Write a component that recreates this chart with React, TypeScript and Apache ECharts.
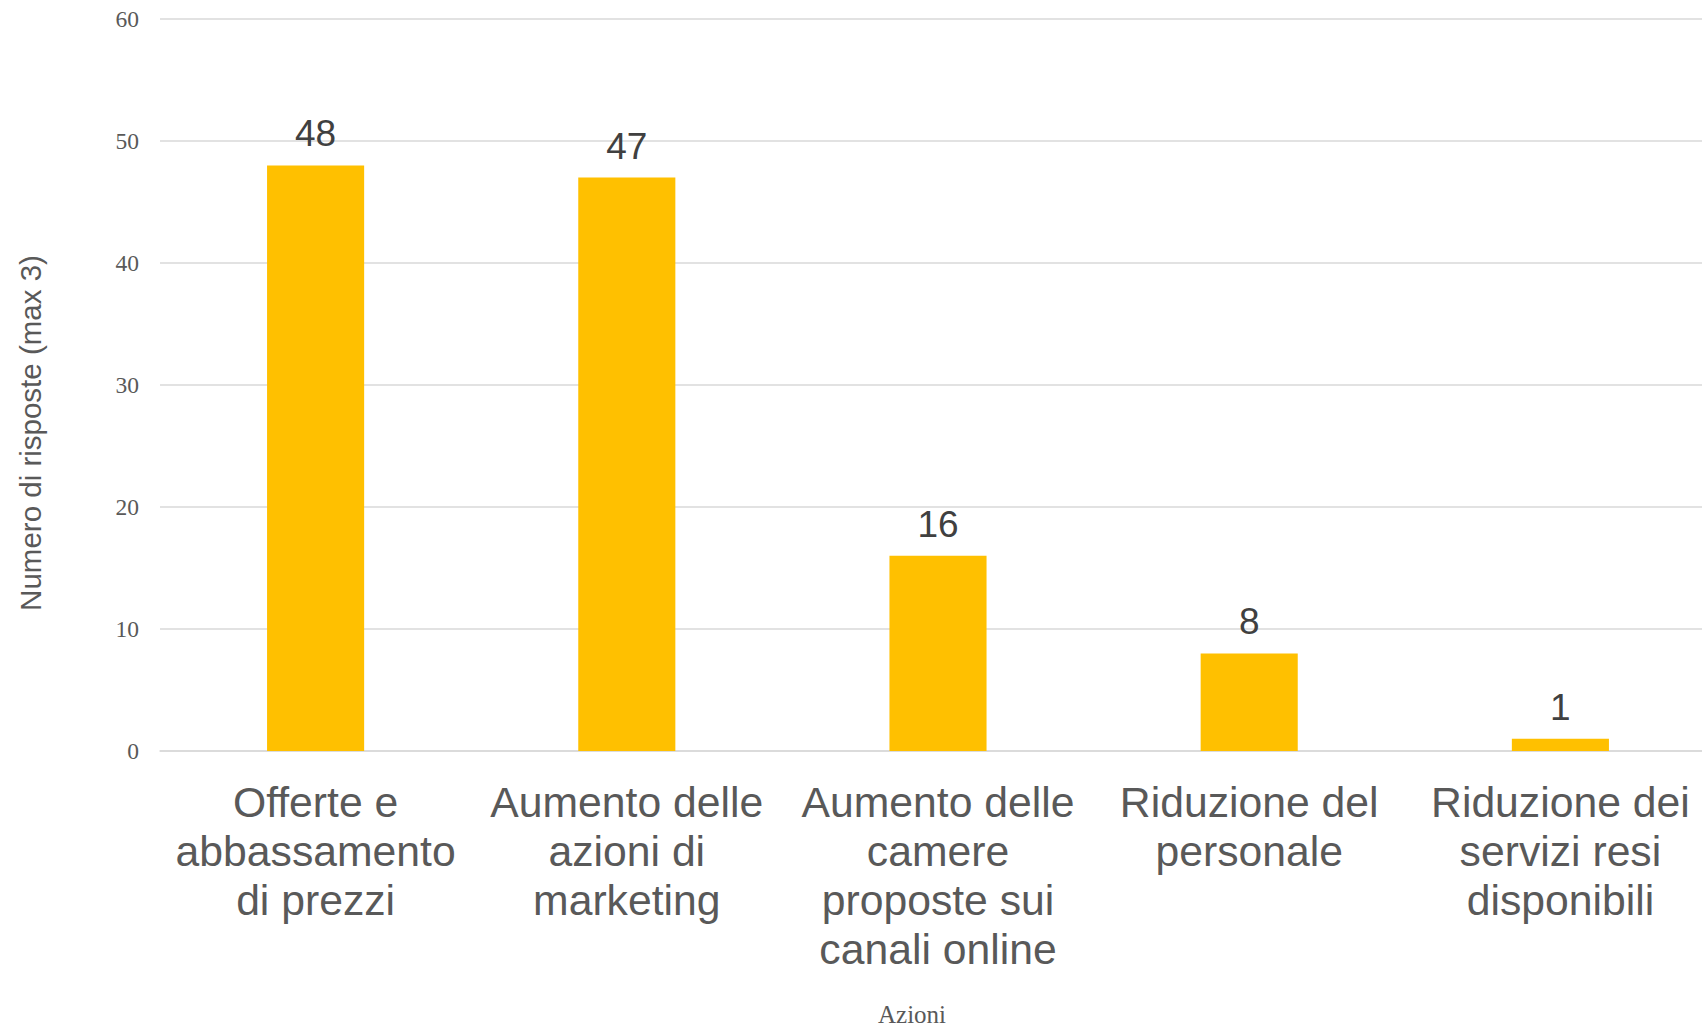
import React, { useEffect, useRef } from "react";
import * as echarts from "echarts";

const categories = [
  "Offerte e\nabbassamento\ndi prezzi",
  "Aumento delle\nazioni di\nmarketing",
  "Aumento delle\ncamere\nproposte sui\ncanali online",
  "Riduzione del\npersonale",
  "Riduzione dei\nservizi resi\ndisponibili",
];
const values = [48, 47, 16, 8, 1];
const yTicks = { min: 0, max: 60, interval: 10 };
const yAxisTitle = "Numero di risposte (max 3)";
const xAxisTitle = "Azioni";

export default function App() {
  const ref = useRef<HTMLDivElement>(null);
  useEffect(() => {
    if (!ref.current) return;
    const chart = echarts.init(ref.current, null, { renderer: "svg" });
    chart.setOption({
      animation: false,
      backgroundColor: "#ffffff",
      grid: {
        left: 160,
        right: -14,
        top: 19,
        bottom: 276,
        containLabel: false,
        outerBoundsMode: "none",
      },
      graphic: [
        {
          type: "text",
          x: 30,
          y: 433,
          rotation: Math.PI / 2,
          style: {
            text: yAxisTitle,
            fontFamily: "Liberation Sans",
            fontSize: 29.5,
            fill: "#595959",
            align: "center",
            verticalAlign: "middle",
          },
        },
      ],
      xAxis: {
        type: "category",
        data: categories,
        name: xAxisTitle,
        nameLocation: "middle",
        nameGap: 251,
        nameTextStyle: {
          fontFamily: "Liberation Serif",
          fontSize: 25,
          color: "#595959",
          padding: [0, 52, 0, 0],
        },
        axisLine: { show: true, lineStyle: { color: "#D9D9D9", width: 1.5 } },
        axisTick: { show: false },
        axisLabel: {
          interval: 0,
          margin: 26,
          fontFamily: "Liberation Sans",
          fontSize: 42.7,
          lineHeight: 49,
          color: "#595959",
        },
      },
      yAxis: {
        type: "value",
        min: yTicks.min,
        max: yTicks.max,
        interval: yTicks.interval,
        axisLine: { show: false },
        axisTick: { show: false },
        axisLabel: {
          margin: 21,
          fontFamily: "Liberation Serif",
          fontSize: 23.5,
          color: "#595959",
        },
        splitLine: { show: true, lineStyle: { color: "#D9D9D9", width: 1.5 } },
      },
      series: [
        {
          type: "bar",
          data: values,
          barWidth: "31.2%",
          itemStyle: { color: "#FFC000" },
          label: {
            show: true,
            position: "top",
            distance: 13,
            fontFamily: "Liberation Sans",
            fontSize: 37,
            color: "#404040",
          },
        },
      ],
    });
    return () => chart.dispose();
  }, []);
  return (
    <div
      ref={ref}
      style={{ position: "fixed", left: 0, top: 0, width: 1702, height: 1027 }}
    />
  );
}
